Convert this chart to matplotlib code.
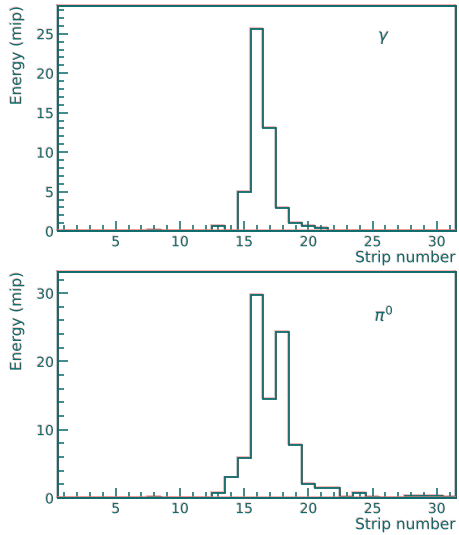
import numpy as np
import matplotlib
matplotlib.use('Agg')
import matplotlib.pyplot as plt
import matplotlib.patheffects as pe
from matplotlib.ticker import MultipleLocator

# strip numbers 1..31, bins centred on integers
strips = np.arange(1, 32)

gamma_energy = [0, 0, 0, 0, 0, 0, 0, 0.2, 0, 0,
                0, 0, 0.6, 0.05, 4.9, 25.6, 13.1, 2.9, 1.0, 0.6,
                0.35, 0, 0, 0, 0, 0, 0, 0, 0, 0, 0]

pi0_energy = [0, 0, 0, 0, 0, 0, 0, 0.2, 0, 0,
              0, 0, 0.7, 3.0, 5.9, 29.7, 14.5, 24.3, 7.8, 2.1,
              1.4, 1.4, 0.2, 0.8, 0.15, 0, 0, 0.3, 0.3, 0.3, 0.1]

panels = [
    (gamma_energy, r'$\gamma$', 28.5, 1, [0, 5, 10, 15, 20, 25], 0.86),
    (pi0_energy, r'$\pi^0$', 33.1, 2, [0, 10, 20, 30], 0.81),
]

ink = '#0d6b6b'
fringe = [pe.SimpleLineShadow(offset=(-0.7, 0.7), shadow_color='#f08080', alpha=0.6), pe.Normal()]
text_fringe = [pe.withSimplePatchShadow(offset=(-0.6, 0.6), shadow_rgbFace='#f08080', alpha=0.5)]

fig = plt.figure(figsize=(4.59, 5.35), dpi=100)
rects = [[0.1264, 0.568, 0.867, 0.4206], [0.1264, 0.0692, 0.867, 0.4224]]

edges = np.append(strips - 0.5, strips[-1] + 0.5)

for rect, (vals, name, ytop, yminor, yticks, ny) in zip(rects, panels):
    ax = fig.add_axes(rect)
    ax.stairs(vals, edges, color=ink, linewidth=1.3, path_effects=fringe)
    ax.set_xlim(0.5, 31.5)
    ax.set_ylim(0, ytop)
    ax.set_xticks([5, 10, 15, 20, 25, 30])
    ax.set_yticks(yticks)
    ax.xaxis.set_minor_locator(MultipleLocator(1))
    ax.yaxis.set_minor_locator(MultipleLocator(yminor))
    ax.tick_params(which='both', direction='in', top=False, right=False,
                   colors=ink, labelsize=10, width=1.1)
    ax.tick_params(which='major', length=7, pad=3)
    ax.tick_params(which='minor', length=4)
    for lab in ax.get_xticklabels() + ax.get_yticklabels():
        lab.set_path_effects(text_fringe)
    for s in ax.spines.values():
        s.set_color(ink)
        s.set_linewidth(1.4)
        s.set_path_effects(fringe)
    ax.set_xlabel('Strip number', color=ink, fontsize=11, loc='right',
                  path_effects=text_fringe)
    ax.xaxis.set_label_coords(1.0, -0.085)
    ax.set_ylabel('Energy (mip)', color=ink, fontsize=11, loc='top',
                  path_effects=text_fringe)
    ax.yaxis.set_label_coords(-0.085, 1.0)
    ax.text(0.82, ny, name, transform=ax.transAxes, color=ink, fontsize=12,
            ha='center', va='center', path_effects=text_fringe)

fig.savefig('out.png', dpi=100)
